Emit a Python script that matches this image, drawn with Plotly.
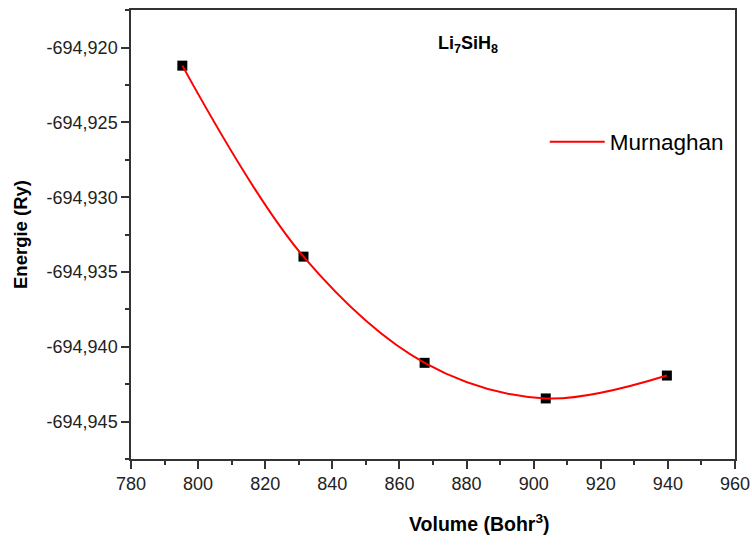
import plotly.graph_objects as go

volume = [795.3, 831.4, 867.5, 903.6, 939.7]
energy = [-694.92120, -694.93397, -694.94107, -694.94345, -694.94192]

x_ticks = [780, 800, 820, 840, 860, 880, 900, 920, 940, 960]
y_ticks = [-694.920, -694.925, -694.930, -694.935, -694.940, -694.945]
y_tick_labels = [f"{v:.3f}".replace(".", ",") for v in y_ticks]

FONT = "Arial, Liberation Sans, sans-serif"

fig = go.Figure()
fig.add_trace(go.Scatter(
    x=volume, y=energy, mode="markers",
    marker=dict(symbol="square", size=10, color="black"),
    showlegend=False,
))
fig.add_trace(go.Scatter(
    x=volume, y=energy, mode="lines", name="Murnaghan",
    line=dict(color="red", width=2, shape="spline", smoothing=1.0),
))

axis_common = dict(
    showline=True, linecolor="#333", linewidth=1.5, mirror=True,
    ticks="outside", ticklen=8, tickwidth=1.5, tickcolor="#333",
    showgrid=False, zeroline=False,
    tickfont=dict(family=FONT, size=18, color="#222"),
)

fig.update_xaxes(
    range=[780, 960], tickvals=x_ticks,
    minor=dict(ticks="outside", ticklen=4, tickwidth=1.5, tickcolor="#333", dtick=10),
    **axis_common,
)
fig.update_yaxes(
    range=[-694.9475, -694.91748], tickvals=y_ticks, ticktext=y_tick_labels,
    minor=dict(ticks="outside", ticklen=4, tickwidth=1.5, tickcolor="#333", dtick=0.0025),
    title=dict(text="<b>Energie (Ry)</b>", font=dict(family=FONT, size=18.5, color="black"), standoff=14),
    **axis_common,
)

# x-axis title (off-centre in the reference, so drawn as an annotation)
fig.add_annotation(
    text="<b>Volume (Bohr<sup>3</sup>)</b>", xref="paper", yref="paper",
    x=0.576, y=-0.142, xanchor="center", yanchor="middle", showarrow=False,
    font=dict(family=FONT, size=19.5, color="black"),
)

fig.add_annotation(
    text="<b>Li<sub>7</sub>SiH<sub>8</sub></b>", xref="paper", yref="paper",
    x=0.558, y=0.954, showarrow=False,
    font=dict(family=FONT, size=18, color="black"),
)

fig.update_layout(
    width=752, height=550, autosize=False,
    margin=dict(l=131, r=17, t=10, b=91, autoexpand=False),
    paper_bgcolor="white", plot_bgcolor="white",
    separators=",.",
    legend=dict(x=0.685, y=0.706, xanchor="left", yanchor="middle",
                bgcolor="rgba(0,0,0,0)", itemwidth=55,
                font=dict(family=FONT, size=22.5, color="black")),
)

fig.write_html(
    "out.html",
    config={"responsive": False, "displayModeBar": False},
    post_script="document.body.style.margin='0';document.body.style.overflow='hidden';",
)
